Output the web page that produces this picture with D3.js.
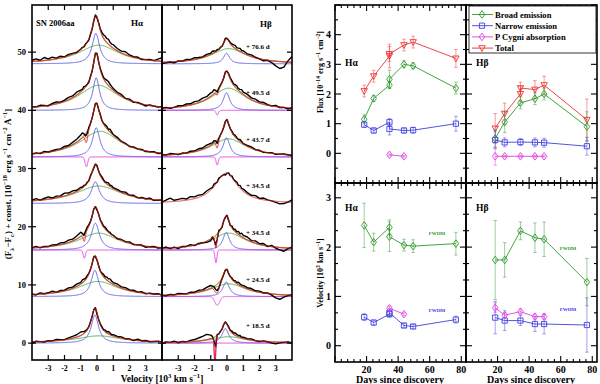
<!DOCTYPE html>
<html>
<head>
<meta charset="utf-8">
<script src="https://cdn.jsdelivr.net/npm/d3@7"></script>
<style>
  body { margin: 0; background: #fff; }
  svg { display: block; }
  text { font-family: "Liberation Serif", "DejaVu Serif", serif; font-weight: bold; fill: #000; }
</style>
</head>
<body>
<svg id="chart" width="600" height="384"></svg>
<script>
// ---------- spectra (left figure) ----------
const epochLabels = ["+ 76.6 d", "+ 49.5 d", "+ 43.7 d", "+ 34.5 d", "+ 34.5 d", "+ 24.5 d", "+ 18.5 d"];
const offsets = [48, 40, 32, 24, 16, 8, 0];

// fitted components, H-alpha (amplitude, centre, FWHM in 10^3 km/s)
const haBroadAmp = [3.2, 4.3, 4.4, 3.0, 2.9, 2.6, 1.25];
const haBroadCen = [0.1, 0.1, 0.2, 0.1, 0.1, 0.05, 0.1];
const haBroadWid = [3.0, 3.0, 3.0, 3.4, 3.0, 3.0, 3.4];
const haNarAmp = [5.2, 5.6, 5.0, 3.7, 4.6, 4.5, 4.8];
const haNarCen = [-0.07, -0.05, -0.05, -0.1, -0.1, -0.13, -0.13];
const haNarWid = [0.55, 0.5, 0.55, 0.6, 0.6, 0.55, 0.55];
const haAbsAmp = [0, 0, -1.7, 0, -1.4, 0, 0];
const haAbsCen = [0, 0, -0.65, 0, -0.78, 0, 0];
const haAbsSig = [0, 0, 0.08, 0, 0.07, 0, 0];

// fitted components, H-beta
const hbDecomposed = [true, true, true, false, true, true, true];
const hbBroadAmp = [2.6, 3.8, 3.1, 5.2, 2.9, 2.2, 1.1];
const hbBroadCen = [0.1, 0.1, 0.1, -0.05, 0.1, 0.1, 0.1];
const hbBroadWid = [2.6, 2.6, 2.6, 1.7, 2.6, 2.6, 2.4];
const hbNarAmp = [1.8, 3.0, 3.3, 0, 3.0, 2.5, 2.5];
const hbNarCen = [-0.03, -0.03, -0.03, 0, -0.05, -0.05, -0.1];
const hbNarWid = [0.45, 0.5, 0.5, 0, 0.5, 0.5, 0.5];
const hbAbsAmp = [0, -0.8, -1.4, 0, -2.2, -1.5, -4.5];
const hbAbsCen = [0, -0.6, -0.6, 0, -0.68, -0.6, -0.74];
const hbAbsSig = [0, 0.07, 0.07, 0, 0.06, 0.15, 0.04];

// observed minus fit, sampled on velGrid (12 + 21 + 12 points)
const velGrid = [...d3.range(-4, -1.2, 0.25), ...d3.range(-10, 11).map(i => i / 10), ...d3.range(1.25, 4.01, 0.25)];
const haResid = [
  [0.2,0.4,0.1,0.5,0.2,0.4,0.1,0.3,0.0,0.2,0.1,-0.1,
   0.0,0.1,-0.1,0.1,0.0,-0.2,0.1,-0.1,0.0,0.1,-0.2,0.1,0.2,0.4,0.6,0.8,0.7,0.9,0.6,0.5,0.6,
   0.4,0.3,0.5,0.2,0.1,0.2,-0.1,0.0,0.1,0.0,0.3,0.6],
  [0.1,0.0,0.2,0.1,-0.1,0.2,0.3,0.1,0.2,0.4,0.3,0.5,
   0.3,0.2,0.4,0.1,0.0,-0.2,0.1,-0.1,0.0,0.2,0.1,-0.1,0.1,0.3,0.2,0.4,0.6,0.7,0.5,0.4,0.3,
   0.2,0.3,0.0,0.2,-0.1,0.1,0.0,-0.2,0.1,0.0,-0.1,0.1],
  [0.0,0.1,-0.1,0.2,0.0,0.1,0.2,0.1,0.3,0.2,0.4,0.5,
   0.7,0.8,0.6,1.0,1.0,0.4,0.1,0.0,-0.1,0.1,0.0,-0.1,0.2,0.0,0.1,0.3,0.4,0.2,0.5,0.3,0.1,
   0.2,0.0,0.1,-0.1,0.1,0.0,0.1,-0.1,0.0,0.1,-0.1,0.0],
  [0.1,0.3,0.0,0.2,0.4,0.1,0.3,0.2,0.5,0.3,0.4,0.2,
   0.3,0.1,0.2,0.0,0.1,-0.1,0.2,0.0,-0.2,0.1,0.2,0.0,0.1,0.3,0.2,0.1,0.3,0.4,0.2,0.3,0.1,
   0.2,0.1,0.3,0.0,0.2,-0.1,0.1,0.0,0.2,-0.1,0.0,0.1],
  [0.0,0.2,-0.1,0.1,0.0,0.2,0.1,0.3,0.2,0.4,0.3,0.5,
   0.7,0.6,1.0,0.8,0.4,0.2,0.0,-0.1,0.1,0.0,-0.2,0.1,0.0,0.2,0.1,0.3,0.2,0.1,0.2,0.0,0.1,
   -0.1,0.1,0.0,0.2,-0.1,0.0,0.1,-0.2,0.0,0.1,-0.1,0.0],
  [0.1,-0.1,0.2,0.0,0.1,0.3,0.0,0.2,0.1,0.3,0.2,0.4,
   0.3,0.5,0.4,0.2,0.3,0.1,0.0,-0.1,0.1,-0.2,0.0,0.1,0.0,0.2,0.4,0.3,0.5,0.4,0.6,0.4,0.3,
   0.4,0.2,0.3,0.1,0.2,0.0,0.2,-0.1,0.1,0.0,0.1,-0.1],
  [-0.2,0.1,0.0,-0.1,0.1,0.0,0.2,0.1,0.0,0.2,0.3,0.4,
   0.6,0.5,0.3,0.2,0.1,0.0,0.1,-0.1,0.0,0.1,-0.2,0.0,0.1,0.2,0.1,0.3,0.2,0.4,0.3,0.1,0.2,
   0.1,0.2,0.0,0.1,-0.1,0.2,0.0,0.1,-0.1,0.0,0.1,0.0]
];
const hbResid = [
  [-0.2,-0.1,0.0,-0.2,0.1,0.0,0.2,0.1,0.3,0.2,0.1,0.3,
   0.2,0.4,0.3,0.1,0.2,0.0,0.1,-0.1,0.0,0.2,0.0,0.1,0.2,0.3,0.4,0.5,0.3,0.4,0.5,0.3,0.4,
   0.2,0.3,0.1,0.0,-0.2,0.0,-0.3,-0.8,-1.2,-0.9,0.2,1.0],
  [0.0,0.1,-0.1,0.0,0.2,0.1,0.3,0.2,0.4,0.3,0.5,0.4,
   0.6,0.5,0.7,0.6,0.5,0.3,0.1,0.0,-0.1,0.1,0.0,0.1,0.2,0.3,0.2,0.4,0.5,0.3,0.4,0.6,0.4,
   0.5,0.3,0.4,0.2,0.3,0.1,0.0,0.2,-0.1,0.0,-0.2,0.0],
  [0.1,0.0,0.2,0.1,-0.1,0.1,0.0,0.2,0.1,0.3,0.2,0.4,
   0.3,0.2,0.4,0.6,0.8,0.4,0.1,0.0,-0.1,0.0,0.1,-0.1,0.0,0.2,0.1,0.3,0.2,0.1,0.3,0.2,0.0,
   0.1,0.2,0.0,0.1,-0.1,0.0,0.1,-0.1,0.0,0.1,0.0,-0.1],
  [0.0,0.3,0.6,0.2,0.3,0.4,0.2,0.5,0.3,0.4,0.2,0.4,
   0.3,0.1,0.4,0.2,0.0,0.3,0.1,0.0,-0.1,-0.3,0.0,0.2,0.0,0.3,0.1,0.2,0.4,0.2,0.5,0.3,0.4,
   0.3,0.2,0.4,0.1,0.3,0.1,0.0,-0.2,-0.4,-0.3,0.0,0.4],
  [0.0,0.2,-0.1,0.1,-0.2,0.1,0.0,0.2,-0.1,0.1,0.0,-0.2,
   -0.3,0.2,-0.2,0.5,0.0,0.3,0.0,-0.2,0.1,-0.1,0.2,0.0,-0.2,0.3,0.1,0.4,0.2,0.5,0.3,0.6,0.4,
   0.5,0.2,0.4,0.1,0.3,-0.1,0.2,-0.2,-0.4,-0.6,-0.1,0.2],
  [0.0,-0.1,0.1,0.0,0.2,0.1,0.0,0.2,0.1,0.3,0.2,0.4,
   0.5,0.4,0.6,0.5,0.4,0.3,0.2,0.0,-0.1,0.0,0.1,-0.1,0.0,0.2,0.1,0.3,0.2,0.4,0.3,0.2,0.3,
   0.2,0.3,0.1,0.2,0.0,0.1,-0.2,-0.6,-0.8,-0.4,-0.1,0.1],
  [-0.1,0.1,0.0,0.2,-0.1,0.1,0.0,0.2,0.3,0.5,0.7,0.9,
   0.6,0.3,0.8,1.0,0.2,0.0,0.1,-0.1,0.0,0.1,0.0,0.2,0.1,0.3,0.2,0.4,0.3,0.2,0.3,0.1,0.2,
   0.1,0.2,0.0,-0.1,0.1,0.0,-0.2,-0.3,-0.1,0.0,0.1,-0.1]
];

// ---------- fluxes and velocities (right figure) ----------
const days = [18.5, 24.5, 34.5, 34.5, 43.7, 49.5, 76.6];
const daysHb = [18.5, 24.5, 34.5, 43.7, 49.5, 76.6];
const daysAbsHa = [34.5, 43.7];
const daysAbsHb = [18.5, 24.5, 34.5, 43.7, 49.5];

const haTotFlux = [2.1, 2.6, 3.28, 3.35, 3.65, 3.75, 3.2];
const haTotFluxErr = [0.2, 0.2, 0.4, 0.25, 0.2, 0.2, 0.3];
const haBroadFlux = [1.15, 1.85, 2.3, 2.5, 3.0, 2.95, 2.2];
const haBroadFluxErr = [0.15, 0.1, 0.12, 0.3, 0.12, 0.1, 0.2];
const haNarFlux = [0.97, 0.77, 1.05, 0.82, 0.77, 0.78, 1.0];
const haNarFluxErr = [0.1, 0.08, 0.12, 0.2, 0.08, 0.1, 0.25];
const haAbsFlux = [-0.05, -0.1];
const haAbsFluxErr = [0.03, 0.03];

const hbTotFlux = [0.84, 1.34, 2.0, 2.2, 2.15, 2.3, 1.13];
const hbTotFluxErr = [0.5, 0.35, 0.25, 0.2, 0.3, 0.3, 0.7];
const hbBroadFlux = [0.5, 1.05, 1.7, 1.84, 2.0, 0.9];
const hbBroadFluxErr = [0.3, 0.35, 0.2, 0.2, 0.2, 0.5];
const hbNarFlux = [0.45, 0.37, 0.38, 0.37, 0.36, 0.24];
const hbNarFluxErr = [0.3, 0.15, 0.12, 0.15, 0.15, 0.3];
const hbAbsFlux = [-0.1, -0.1, -0.1, -0.1, -0.1];
const hbAbsFluxErr = [0.3, 0.03, 0.03, 0.03, 0.03];

const haBroadVel = [2.44, 2.1, 2.4, 2.21, 2.04, 2.02, 2.07];
const haBroadVelErr = [0.45, 0.18, 0.15, 0.3, 0.12, 0.13, 0.23];
const haNarVel = [0.58, 0.47, 0.64, 0.67, 0.41, 0.39, 0.53];
const haNarVelErr = [0.07, 0.05, 0.06, 0.08, 0.04, 0.04, 0.07];
const haAbsVel = [0.76, 0.64];
const haAbsVelErr = [0.04, 0.03];

const hbBroadVel = [1.74, 1.74, 2.33, 2.19, 2.16, 1.29];
const hbBroadVelErr = [0.8, 0.35, 0.18, 0.3, 0.35, 0.48];
const hbNarVel = [0.57, 0.51, 0.51, 0.44, 0.44, 0.42];
const hbNarVelErr = [0.33, 0.2, 0.1, 0.15, 0.2, 0.55];
const hbAbsVel = [0.77, 0.62, 0.69, 0.59, 0.59];
const hbAbsVelErr = [0.1, 0.05, 0.05, 0.05, 0.05];

const legendItems = ["Broad emission", "Narrow emission", "P Cygni absorption", "Total"];

// colours
const cGreen = "#2f9a2f", cBlue = "#4040e0", cMag = "#e23ee2", cRed = "#ee3030", cTan = "#c9a46c";

const svg = d3.select("#chart");

function lor(v, a, c, w) { return w > 0 ? a / (1 + Math.pow((v - c) / (w / 2), 2)) : 0; }
function gau(v, a, c, s) { return s > 0 ? a * Math.exp(-0.5 * Math.pow((v - c) / s, 2)) : 0; }

// text with super/subscripts
function rich(g, x, y, parts, size, anchor, rotate) {
  const t = g.append("text").attr("font-size", size).attr("text-anchor", anchor || "start")
    .attr("transform", `translate(${x},${y})` + (rotate ? ` rotate(${rotate})` : ""));
  let shift = 0;
  parts.forEach(p => {
    const s = typeof p === "string" ? p : p[0];
    const kind = typeof p === "string" ? null : p[1];
    const target = kind === "sup" ? -size * 0.4 : kind === "sub" ? size * 0.3 : 0;
    t.append("tspan").attr("dy", target - shift).attr("font-size", kind ? size * 0.7 : size).text(s);
    shift = target;
  });
  return t;
}

// ================= LEFT FIGURE =================
const spX = [
  d3.scaleLinear().domain([-4, 4]).range([32, 162]),
  d3.scaleLinear().domain([-4, 4]).range([162, 292])
];
const spY = d3.scaleLinear().domain([-2.9, 58.1]).range([360, 5]);
const fine = d3.range(-4, 4.0001, 0.01);

const defs = svg.append("defs");
spX.forEach((xs, p) => {
  defs.append("clipPath").attr("id", "clipSp" + p).append("rect")
    .attr("x", xs.range()[0]).attr("y", spY.range()[1])
    .attr("width", xs.range()[1] - xs.range()[0]).attr("height", spY.range()[0] - spY.range()[1]);
});

const lineParams = [
  { bA: haBroadAmp, bC: haBroadCen, bW: haBroadWid, nA: haNarAmp, nC: haNarCen, nW: haNarWid,
    aA: haAbsAmp, aC: haAbsCen, aS: haAbsSig, res: haResid, dec: offsets.map(() => true) },
  { bA: hbBroadAmp, bC: hbBroadCen, bW: hbBroadWid, nA: hbNarAmp, nC: hbNarCen, nW: hbNarWid,
    aA: hbAbsAmp, aC: hbAbsCen, aS: hbAbsSig, res: hbResid, dec: hbDecomposed }
];

lineParams.forEach((P, p) => {
  const xs = spX[p];
  const g = svg.append("g").attr("clip-path", `url(#clipSp${p})`);
  const line = d3.line().x(d => xs(d[0])).y(d => spY(d[1]));
  offsets.forEach((off, i) => {
    const broad = v => lor(v, P.bA[i], P.bC[i], P.bW[i]);
    const nar = v => lor(v, P.nA[i], P.nC[i], P.nW[i]);
    const abs = v => gau(v, P.aA[i], P.aC[i], P.aS[i]);
    if (P.dec[i]) {
      g.append("path").attr("d", line(fine.map(v => [v, off + nar(v)])))
        .attr("fill", "none").attr("stroke", cBlue).attr("stroke-width", 0.8);
      g.append("path").attr("d", line(fine.map(v => [v, off + broad(v)])))
        .attr("fill", "none").attr("stroke", cGreen).attr("stroke-width", 0.8);
      if (P.aA[i] !== 0) {
        g.append("path").attr("d", line(fine.map(v => [v, off + abs(v)])))
          .attr("fill", "none").attr("stroke", cMag).attr("stroke-width", 0.9);
      }
      g.append("path").attr("d", line(fine.map(v => [v, off + broad(v) + nar(v)])))
        .attr("fill", "none").attr("stroke", cTan).attr("stroke-width", 1.4);
    }
    const obs = velGrid.map((v, k) => [v, off + broad(v) + nar(v) + abs(v) + (P.res[i][k] || 0)]);
    g.append("path").attr("d", line(obs))
      .attr("fill", "none").attr("stroke", "#000").attr("stroke-width", 1.4).attr("stroke-linejoin", "round");
    g.append("path").attr("d", line(fine.map(v => [v, off + broad(v) + nar(v) + abs(v)])))
      .attr("fill", "none").attr("stroke", "#d81c1c").attr("stroke-width", 0.9);
  });
});

// epoch labels in H-beta panel
svg.append("g").selectAll("text").data(epochLabels).join("text")
  .attr("x", 246).attr("y", (d, i) => spY(offsets[i] + 3)).attr("dy", "0.35em")
  .attr("font-size", 7).text(d => d);

// frames + ticks, left figure
const lf = svg.append("g").attr("stroke", "#000").attr("fill", "none");
spX.forEach((xs, p) => {
  lf.append("rect").attr("x", xs.range()[0]).attr("y", spY.range()[1])
    .attr("width", xs.range()[1] - xs.range()[0]).attr("height", spY.range()[0] - spY.range()[1])
    .attr("stroke-width", 1.6);
  d3.range(-3, 4).forEach(t => {
    lf.append("line").attr("x1", xs(t)).attr("x2", xs(t)).attr("y1", spY.range()[0]).attr("y2", spY.range()[0] - 5).attr("stroke-width", 1.2);
    lf.append("line").attr("x1", xs(t)).attr("x2", xs(t)).attr("y1", spY.range()[1]).attr("y2", spY.range()[1] + 5).attr("stroke-width", 1.2);
  });
  svg.append("g").selectAll("text").data(d3.range(-3, 4)).join("text")
    .attr("x", d => xs(d)).attr("y", 371).attr("text-anchor", "middle").attr("font-size", 8)
    .text(d => d);
});
[32, 162, 292].forEach((x, k) => {
  d3.range(0, 51, 10).forEach(t => {
    lf.append("line").attr("x1", k === 2 ? x : x - 4).attr("x2", k === 2 ? x - 5 : x + 4)
      .attr("y1", spY(t)).attr("y2", spY(t)).attr("stroke-width", 1.2);
  });
});
svg.append("g").selectAll("text").data(d3.range(0, 51, 10)).join("text")
  .attr("x", 26).attr("y", d => spY(d)).attr("dy", "0.35em").attr("text-anchor", "end")
  .attr("font-size", 8.5).text(d => d);

svg.append("text").attr("x", 36).attr("y", 26).attr("font-size", 8.5).text("SN 2006aa");
svg.append("text").attr("x", 131).attr("y", 26).attr("font-size", 9).text("Hα");
svg.append("text").attr("x", 260).attr("y", 27).attr("font-size", 9).text("Hβ");

rich(svg, 162, 382, ["Velocity [10", ["3", "sup"], " km s", ["−1", "sup"], "]"], 9.5, "middle");
rich(svg, 11, 184, ["(F", ["λ", "sub"], "−F", ["c", "sub"], ") + const. [10", ["−18", "sup"],
  " erg s", ["−1", "sup"], " cm", ["−2", "sup"], " Å", ["−1", "sup"], "]"], 9, "middle", -90);

// ================= RIGHT FIGURE =================
const dX = [
  d3.scaleLinear().domain([0, 83]).range([335, 466]),
  d3.scaleLinear().domain([0, 83]).range([466, 597])
];
const fY = d3.scaleLinear().domain([-1, 5]).range([183, 5]);
const vY = d3.scaleLinear().domain([-0.33, 3.3]).range([362, 183]);

const shapes = {
  diamond: "M0,-3.8L2.8,0L0,3.8L-2.8,0Z",
  square: "M-2.6,-2.6H2.6V2.6H-2.6Z",
  tri: "M-3.2,-2.4H3.2L0,3.4Z"
};

function series(xs, ys, ds, vals, errs, color, shape) {
  const g = svg.append("g");
  const pts = ds.map((d, i) => ({ d, v: vals[i], e: errs[i] }));
  g.selectAll(".eb").data(pts).join("path")
    .attr("d", p => {
      const x = xs(p.d), y1 = ys(p.v - p.e), y2 = ys(p.v + p.e);
      return `M${x},${y1}V${y2}M${x - 1.8},${y1}H${x + 1.8}M${x - 1.8},${y2}H${x + 1.8}`;
    })
    .attr("stroke", color).attr("stroke-width", 0.6).attr("fill", "none").attr("opacity", 0.8);
  g.append("path").attr("d", d3.line().x(p => xs(p.d)).y(p => ys(p.v))(pts))
    .attr("fill", "none").attr("stroke", color).attr("stroke-width", 0.9);
  g.selectAll(".mk").data(pts).join("path")
    .attr("transform", p => `translate(${xs(p.d)},${ys(p.v)})`)
    .attr("d", shapes[shape]).attr("fill", "none").attr("stroke", color).attr("stroke-width", 0.9);
}

// flux panels
series(dX[0], fY, days, haTotFlux, haTotFluxErr, cRed, "tri");
series(dX[0], fY, days, haBroadFlux, haBroadFluxErr, cGreen, "diamond");
series(dX[0], fY, days, haNarFlux, haNarFluxErr, cBlue, "square");
series(dX[0], fY, daysAbsHa, haAbsFlux, haAbsFluxErr, cMag, "diamond");
series(dX[1], fY, days, hbTotFlux, hbTotFluxErr, cRed, "tri");
series(dX[1], fY, daysHb, hbBroadFlux, hbBroadFluxErr, cGreen, "diamond");
series(dX[1], fY, daysHb, hbNarFlux, hbNarFluxErr, cBlue, "square");
series(dX[1], fY, daysAbsHb, hbAbsFlux, hbAbsFluxErr, cMag, "diamond");
// velocity panels
series(dX[0], vY, days, haBroadVel, haBroadVelErr, cGreen, "diamond");
series(dX[0], vY, days, haNarVel, haNarVelErr, cBlue, "square");
series(dX[0], vY, daysAbsHa, haAbsVel, haAbsVelErr, cMag, "diamond");
series(dX[1], vY, daysHb, hbBroadVel, hbBroadVelErr, cGreen, "diamond");
series(dX[1], vY, daysHb, hbNarVel, hbNarVelErr, cBlue, "square");
series(dX[1], vY, daysAbsHb, hbAbsVel, hbAbsVelErr, cMag, "diamond");

// frames and ticks
const rf = svg.append("g").attr("stroke", "#000").attr("fill", "none");
const xMajor = d3.range(0, 81, 20), xMinor = d3.range(0, 83, 4);
[[fY, d3.range(-1, 6), d3.range(-1, 5.01, 0.5)], [vY, d3.range(0, 4), d3.range(0, 10).map(k => k / 3)]].forEach(([ys, yMaj, yMin]) => {
  dX.forEach(xs => {
    const [x0, x1] = xs.range(), [y0, y1] = ys.range();
    rf.append("rect").attr("x", x0).attr("y", y1).attr("width", x1 - x0).attr("height", y0 - y1).attr("stroke-width", 1.6);
    xMinor.forEach(t => {
      const L = xMajor.includes(t) ? 6 : 3;
      rf.append("line").attr("x1", xs(t)).attr("x2", xs(t)).attr("y1", y0).attr("y2", y0 - L).attr("stroke-width", 1.1);
      rf.append("line").attr("x1", xs(t)).attr("x2", xs(t)).attr("y1", y1).attr("y2", y1 + L).attr("stroke-width", 1.1);
    });
    yMin.forEach(t => {
      if (ys(t) < y1 - 0.5 || ys(t) > y0 + 0.5) return;
      const L = yMaj.some(m => Math.abs(m - t) < 1e-6) ? 6 : 3;
      rf.append("line").attr("x1", x0).attr("x2", x0 + L).attr("y1", ys(t)).attr("y2", ys(t)).attr("stroke-width", 1.1);
      rf.append("line").attr("x1", x1).attr("x2", x1 - L).attr("y1", ys(t)).attr("y2", ys(t)).attr("stroke-width", 1.1);
    });
  });
});

svg.append("g").selectAll("text").data(d3.range(0, 5)).join("text")
  .attr("x", 331).attr("y", d => fY(d)).attr("dy", "0.35em").attr("text-anchor", "end")
  .attr("font-size", 10).text(d => d);
svg.append("g").selectAll("text").data(d3.range(0, 4)).join("text")
  .attr("x", 331).attr("y", d => vY(d)).attr("dy", "0.35em").attr("text-anchor", "end")
  .attr("font-size", 10).text(d => d);
dX.forEach(xs => {
  svg.append("g").selectAll("text").data([20, 40, 60, 80]).join("text")
    .attr("x", d => xs(d)).attr("y", 373).attr("text-anchor", "middle").attr("font-size", 10).text(d => d);
});
svg.append("text").attr("x", 400).attr("y", 383).attr("text-anchor", "middle").attr("font-size", 10).text("Days since discovery");
svg.append("text").attr("x", 531).attr("y", 383).attr("text-anchor", "middle").attr("font-size", 10).text("Days since discovery");

rich(svg, 323, 72, ["Flux [10", ["−14", "sup"], " erg s", ["−1", "sup"], " cm", ["−2", "sup"], "]"], 8, "middle", -90);
rich(svg, 323, 273, ["Velocity [10", ["3", "sup"], " km s", ["−1", "sup"], "]"], 8, "middle", -90);

[[345, 66, "Hα"], [476, 66, "Hβ"], [345, 211, "Hα"], [476, 211, "Hβ"]].forEach(([x, y, s]) => {
  svg.append("text").attr("x", x).attr("y", y).attr("font-size", 9.5).text(s);
});
[[437, 233, cGreen], [437, 310, cBlue], [568, 248, cGreen], [568, 309, cBlue]].forEach(([x, y, c]) => {
  svg.append("text").attr("x", x).attr("y", y).attr("dy", "0.35em").attr("text-anchor", "middle")
    .attr("font-size", 5).style("fill", c).text("FWHM");
});

// legend
const lg = svg.append("g");
lg.append("rect").attr("x", 469).attr("y", 6).attr("width", 127).attr("height", 47)
  .attr("fill", "#fff").attr("stroke", "#000").attr("stroke-width", 0.8);
const legColors = [cGreen, cBlue, cMag, cRed], legShapes = ["diamond", "square", "diamond", "tri"];
legendItems.forEach((name, i) => {
  const y = 14.5 + i * 11.2;
  lg.append("line").attr("x1", 472).attr("x2", 493).attr("y1", y).attr("y2", y).attr("stroke", legColors[i]).attr("stroke-width", 0.9);
  lg.append("path").attr("transform", `translate(482,${y})`).attr("d", shapes[legShapes[i]])
    .attr("fill", "none").attr("stroke", legColors[i]).attr("stroke-width", 0.9);
  lg.append("text").attr("x", 495).attr("y", y).attr("dy", "0.35em").attr("font-size", 8.6).text(name);
});
</script>
</body>
</html>
